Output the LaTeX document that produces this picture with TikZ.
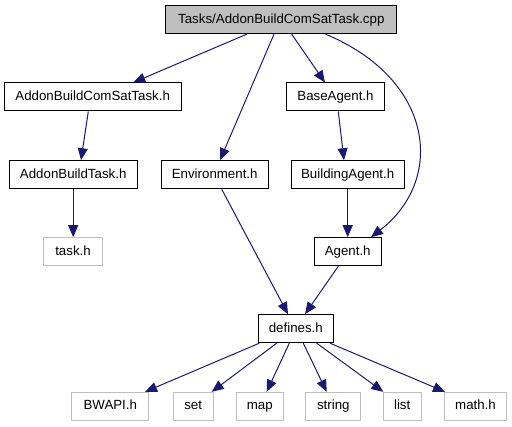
\documentclass[tikz,border=0pt]{standalone}
\usepackage{fontspec}
\setmainfont{Liberation Sans}
\usetikzlibrary{arrows.meta,calc}
\definecolor{edgeblue}{HTML}{191970}
\definecolor{leafgray}{HTML}{BFBFBF}
\tikzset{
  box/.style={draw=black, line width=1pt, minimum height=28pt, inner sep=0pt,
    text height=9.6pt, text depth=2.8pt, font=\fontsize{13.3}{16}\selectfont, fill=white},
  leaf/.style={box, draw=leafgray},
  rootbox/.style={box, fill=leafgray},
  edge/.style={draw=edgeblue, line width=1pt, -{Triangle[length=12pt,width=10pt]}},
}
\begin{document}
\begin{tikzpicture}[x=1pt,y=-1pt]
\useasboundingbox (0,0) rectangle (512,427);
% nodes
\node[rootbox, minimum width=231pt] (top) at (281.3,19.7) {Tasks/AddonBuildComSatTask.cpp};
\node[box, minimum width=176.7pt] (abcst) at (92.7,97) {AddonBuildComSatTask.h};
\node[box, minimum width=97.6pt] (base) at (335.5,97) {BaseAgent.h};
\node[box, minimum width=128.3pt] (abt) at (73.2,174.7) {AddonBuildTask.h};
\node[box, minimum width=107.3pt] (env) at (214.7,174.7) {Environment.h};
\node[box, minimum width=113.3pt] (bld) at (347.7,174.7) {BuildingAgent.h};
\node[leaf, minimum width=58.6pt] (task) at (73,251.7) {task.h};
\node[box, minimum width=66.7pt] (agent) at (347.7,251.7) {Agent.h};
\node[box, minimum width=75pt] (defines) at (295.8,328.7) {defines.h};
\node[leaf, minimum width=77.3pt, minimum height=27.7pt] (bwapi) at (110.3,406.2) {BWAPI.h};
\node[leaf, minimum width=40.3pt, minimum height=27.7pt] (set) at (193.2,406.2) {set};
\node[leaf, minimum width=47pt, minimum height=27.7pt] (map) at (259.8,406.2) {map};
\node[leaf, minimum width=54.7pt, minimum height=27.7pt] (string) at (333.3,406.2) {string};
\node[leaf, minimum width=37.7pt, minimum height=27.7pt] (list) at (402.2,406.2) {list};
\node[leaf, minimum width=62.4pt, minimum height=27.7pt] (math) at (475.5,406.2) {math.h};
% edges
\draw[edge] ([xshift=-34.6pt]top.south) -- ([xshift=40.6pt]abcst.north);
\draw[edge] ([xshift=-7.3pt]top.south) -- ([xshift=5.3pt]env.north);
\draw[edge] ([xshift=10.4pt]top.south) -- ([xshift=-10.5pt]base.north);
\draw[edge] ([xshift=44.4pt]top.south) .. controls (435,80) and (445,180) .. ([xshift=23.3pt]agent.north);
\draw[edge] ([xshift=-4.4pt]abcst.south) -- ([xshift=7.8pt]abt.north);
\draw[edge] ([xshift=2.8pt]base.south) -- ([xshift=-3.7pt]bld.north);
\draw[edge] (abt.south) -- (abt.south |- task.north);
\draw[edge] (bld.south) -- (agent.north);
\draw[edge] ([xshift=7pt]env.south) -- ([xshift=-7.8pt]defines.north);
\draw[edge] ([xshift=-9.4pt]agent.south) -- ([xshift=9.2pt]defines.north);
\draw[edge] ([xshift=-36.5pt]defines.south) -- ([xshift=34.7pt]bwapi.north);
\draw[edge] ([xshift=-19.1pt]defines.south) -- ([xshift=18.5pt]set.north);
\draw[edge] ([xshift=-6.5pt]defines.south) -- ([xshift=6.9pt]map.north);
\draw[edge] ([xshift=7.5pt]defines.south) -- ([xshift=-6.6pt]string.north);
\draw[edge] ([xshift=20.9pt]defines.south) -- ([xshift=-18.9pt]list.north);
\draw[edge] ([xshift=34.2pt]defines.south) -- ([xshift=-30.5pt]math.north);
\end{tikzpicture}
\end{document}
